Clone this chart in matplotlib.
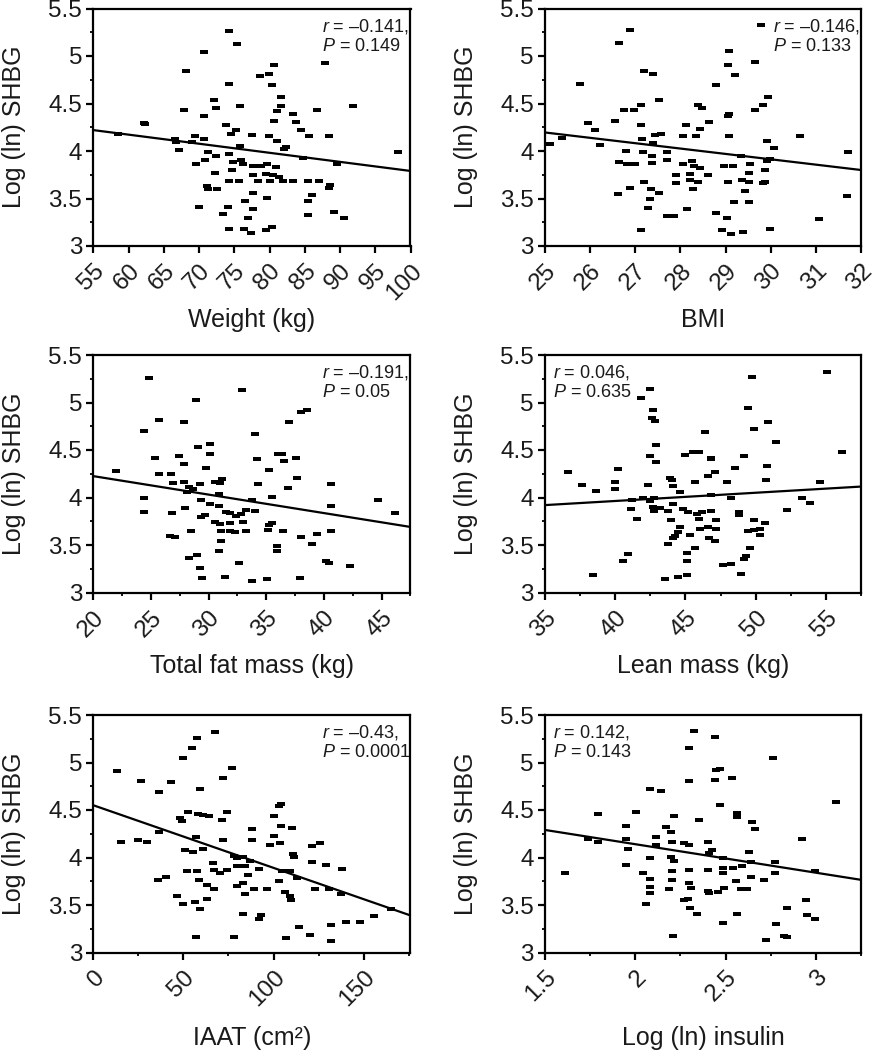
import numpy as np
import matplotlib
matplotlib.use("Agg")
import matplotlib.pyplot as plt
from matplotlib.ticker import MultipleLocator

plt.rcParams['font.family'] = ['Liberation Sans', 'DejaVu Sans']
plt.rcParams['mathtext.fontset'] = 'custom'
plt.rcParams['mathtext.rm'] = 'Liberation Sans'
plt.rcParams['mathtext.it'] = 'Liberation Sans:italic'

# ---- data ----
weight = [74.3, 75.4, 70.7, 68.2, 80.6, 79.9, 78.7, 74.2, 80.4, 87.9, 72.1, 72.4, 67.9, 75.8, 81.6,
          81.6, 81.1, 70.7, 80.6, 83.4, 83.8, 86.7, 91.9, 62.2, 62.4, 58.5, 73.8, 75.2, 74.5, 77.5,
          79.9, 81.0, 84.4, 85.6, 88.5, 66.6, 66.8, 67.2, 69.4, 70.7, 69.0, 75.8, 71.3, 72.4, 70.9,
          69.5, 74.3, 74.8, 76.0, 76.2, 77.6, 78.8, 79.7, 80.9, 74.7, 72.2, 77.7, 79.5, 80.5, 81.4,
          82.1, 82.4, 84.7, 89.6, 98.2, 74.2, 75.7, 78.3, 80.0, 81.9, 83.4, 85.4, 87.0, 88.6, 88.4,
          71.1, 71.3, 72.5, 77.6, 79.7, 86.0, 85.4, 76.5, 70.0, 74.1, 77.6, 73.4, 85.4, 89.2, 90.5,
          76.9, 74.3, 76.4, 77.4, 79.5, 80.3]
shbg_weight = [5.26, 5.13, 5.04, 4.84, 4.90, 4.81, 4.79, 4.71, 4.69, 4.93, 4.54, 4.45, 4.43, 4.47, 4.57,
               4.47, 4.42, 4.37, 4.32, 4.39, 4.31, 4.43, 4.47, 4.29, 4.28, 4.18, 4.27, 4.22, 4.18, 4.17,
               4.16, 4.11, 4.22, 4.16, 4.16, 4.13, 4.09, 4.01, 4.16, 4.13, 4.09, 4.05, 3.99, 3.95, 3.91,
               3.86, 3.97, 3.88, 3.91, 3.86, 3.84, 3.84, 3.86, 3.83, 3.80, 3.77, 3.75, 3.76, 3.75, 3.73,
               4.02, 4.04, 3.93, 3.86, 3.99, 3.68, 3.68, 3.68, 3.68, 3.68, 3.68, 3.68, 3.68, 3.64, 3.61,
               3.63, 3.60, 3.60, 3.56, 3.51, 3.54, 3.47, 3.47, 3.41, 3.41, 3.39, 3.34, 3.33, 3.36, 3.30,
               3.29, 3.18, 3.18, 3.14, 3.17, 3.20]

bmi = [29.78, 26.88, 26.64, 29.08, 29.05, 29.21, 29.66, 25.78, 27.19, 27.39, 28.79, 27.53, 26.74, 26.98,
       27.12, 28.40, 28.47, 29.93, 29.82, 29.66, 29.08, 29.05, 25.95, 26.11, 26.54, 27.12, 28.12, 28.64,
       28.43, 27.44, 27.58, 28.05, 28.35, 29.08, 27.14, 27.39, 26.22, 25.11, 25.37, 26.79, 27.16, 27.36,
       27.38, 27.70, 27.70, 26.65, 26.82, 26.99, 28.06, 28.25, 28.29, 28.43, 27.90, 27.90, 28.21, 28.21,
       28.40, 28.60, 28.27, 28.97, 29.17, 29.06, 29.34, 29.54, 29.51, 29.91, 29.99, 29.87, 29.36, 29.53,
       29.43, 29.82, 29.87, 29.92, 30.08, 30.65, 31.72, 31.68, 31.08, 27.19, 27.34, 27.33, 27.53, 26.62,
       26.88, 27.29, 27.70, 27.86, 28.14, 28.79, 29.03, 29.19, 29.51, 27.12, 28.91, 29.11, 29.39, 29.99]
shbg_bmi = [5.33, 5.27, 5.14, 5.05, 4.91, 4.80, 4.94, 4.71, 4.84, 4.81, 4.69, 4.54, 4.43, 4.43,
            4.48, 4.48, 4.45, 4.57, 4.48, 4.43, 4.39, 4.37, 4.30, 4.22, 4.32, 4.27, 4.27, 4.31,
            4.23, 4.17, 4.18, 4.16, 4.16, 4.16, 4.13, 4.08, 4.06, 4.07, 4.14, 4.00, 3.99, 3.95,
            3.87, 3.99, 3.91, 3.88, 3.86, 3.86, 3.86, 3.90, 3.84, 3.82, 3.75, 3.66, 3.76, 3.69,
            3.67, 3.75, 3.60, 3.84, 3.84, 3.67, 3.95, 3.86, 3.77, 3.89, 3.92, 3.80, 3.69, 3.67,
            3.58, 3.66, 3.67, 4.11, 4.03, 4.16, 3.99, 3.53, 3.28, 3.67, 3.60, 3.50, 3.56, 3.55,
            3.61, 3.40, 3.32, 3.32, 3.39, 3.35, 3.29, 3.46, 3.46, 3.17, 3.17, 3.13, 3.15, 3.18]

fat = [24.81, 32.87, 28.87, 25.70, 27.83, 24.41, 38.57, 38.00, 36.99, 34.02, 29.07, 30.13, 30.13, 25.36,
       27.43, 27.86, 29.79, 34.20, 35.98, 36.36, 36.56, 37.56, 35.20, 37.65, 21.96, 25.70, 26.71, 26.91,
       27.86, 28.29, 28.15, 28.64, 29.21, 30.51, 31.17, 31.00, 30.88, 34.28, 36.90, 40.62, 35.49, 33.76,
       40.59, 24.41, 24.41, 26.82, 27.98, 29.30, 30.08, 30.94, 29.36, 29.65, 31.52, 31.81, 32.38, 32.81,
       33.25, 34.02, 30.51, 31.00, 31.89, 32.96, 35.26, 35.49, 35.12, 28.49, 31.09, 31.81, 32.30, 33.25,
       36.41, 26.62, 27.05, 38.05, 39.41, 38.92, 40.64, 44.71, 46.14, 31.03, 30.88, 35.90, 35.90, 28.98,
       28.29, 29.21, 32.67, 40.16, 40.44, 42.26, 29.42, 31.43, 33.76, 35.06, 37.91]
shbg_fat = [5.26, 5.13, 5.03, 4.82, 4.79, 4.70, 4.92, 4.90, 4.80, 4.67, 4.53, 4.56, 4.46, 4.42,
            4.44, 4.35, 4.31, 4.40, 4.46, 4.46, 4.38, 4.42, 4.29, 4.21, 4.28, 4.25, 4.25, 4.15,
            4.16, 4.11, 4.06, 4.09, 4.14, 4.16, 4.19, 4.15, 4.04, 4.14, 4.10, 4.14, 4.01, 3.97,
            3.91, 3.99, 3.85, 3.84, 3.89, 3.97, 3.93, 3.91, 3.80, 3.82, 3.85, 3.84, 3.81, 3.83,
            3.87, 3.86, 3.74, 3.72, 3.73, 3.74, 3.71, 3.73, 3.66, 3.65, 3.65, 3.65, 3.64, 3.65,
            3.65, 3.60, 3.58, 3.58, 3.62, 3.51, 3.65, 3.97, 3.84, 3.54, 3.44, 3.49, 3.44, 3.39,
            3.36, 3.26, 3.31, 3.33, 3.31, 3.28, 3.15, 3.16, 3.12, 3.14, 3.15]

lean = [55.07, 49.75, 42.48, 41.82, 42.67, 42.60, 42.84, 49.42, 50.91, 49.89, 46.40, 42.91, 51.46, 42.48,
        42.91, 44.98, 45.57, 45.93, 46.83, 46.83, 49.20, 56.14, 48.54, 50.80, 36.62, 40.18, 46.59, 47.11,
        43.91, 44.03, 44.14, 44.62, 45.69, 47.99, 50.72, 54.60, 37.61, 38.63, 39.99, 39.99, 42.36, 46.83,
        48.23, 41.18, 41.96, 42.48, 42.77, 53.29, 53.88, 41.13, 42.67, 42.77, 43.19, 43.79, 44.10, 44.81,
        45.21, 45.81, 46.16, 46.83, 48.78, 48.78, 52.22, 41.53, 43.98, 45.93, 47.19, 49.89, 50.68, 46.05,
        46.59, 47.19, 44.62, 44.50, 44.26, 44.14, 45.33, 49.42, 49.85, 50.32, 50.32, 46.69, 47.11, 43.74,
        45.69, 40.94, 40.53, 45.10, 45.10, 49.61, 49.28, 49.18, 47.66, 48.23, 38.40, 48.94, 43.55, 44.50,
        45.10]
shbg_lean = [5.32, 5.27, 5.14, 5.05, 4.92, 4.84, 4.81, 4.94, 4.80, 4.72, 4.69, 4.55, 4.58, 4.44,
             4.37, 4.45, 4.48, 4.48, 4.42, 4.40, 4.44, 4.48, 4.31, 4.33, 4.27, 4.30, 4.23, 4.27,
             4.21, 4.18, 4.12, 4.06, 4.16, 4.16, 4.18, 4.16, 4.13, 4.07, 4.16, 4.09, 4.13, 4.03,
             4.00, 3.97, 3.99, 3.96, 4.00, 3.99, 3.94, 3.88, 3.90, 3.86, 3.89, 3.86, 3.93, 3.88,
             3.85, 3.83, 3.85, 3.86, 3.85, 3.82, 3.87, 3.77, 3.76, 3.77, 3.76, 3.76, 3.73, 3.67,
             3.69, 3.67, 3.69, 3.64, 3.60, 3.57, 3.61, 3.65, 3.66, 3.67, 3.61, 3.57, 3.54, 3.51,
             3.47, 3.41, 3.33, 3.42, 3.33, 3.47, 3.38, 3.35, 3.29, 3.30, 3.18, 3.19, 3.14, 3.16,
             3.18]

iaat = [67.6, 57.8, 55.0, 50.0, 13.0, 26.3, 43.1, 36.7, 59.3, 76.9, 71.9, 104.1, 103.3, 48.1, 49.1, 52.8,
        58.3, 60.7, 64.4, 74.1, 71.3, 100.4, 104.1, 110.2, 88.3, 36.7, 15.4, 24.6, 29.6, 57.0, 71.9, 88.3,
        100.0, 97.8, 103.7, 121.3, 125.6, 50.9, 55.2, 61.1, 78.1, 80.0, 83.3, 87.0, 121.3, 129.3, 138.0,
        110.6, 111.5, 66.3, 67.0, 70.4, 74.4, 79.6, 83.9, 51.9, 57.8, 91.7, 86.1, 104.6, 108.9, 103.3,
        113.0, 36.1, 40.4, 58.9, 63.0, 66.7, 79.6, 83.0, 84.3, 88.9, 96.3, 106.5, 108.9, 109.6, 123.1,
        130.6, 137.4, 46.3, 50.0, 56.5, 63.0, 59.3, 83.0, 93.0, 92.0, 165.2, 155.6, 147.8, 140.4, 131.9,
        113.9, 120.0, 57.0, 77.8, 107.0, 131.9]
shbg_iaat = [5.32, 5.26, 5.15, 5.05, 4.91, 4.81, 4.80, 4.69, 4.72, 4.94, 4.84, 4.56, 4.54, 4.42, 4.38, 4.48,
             4.46, 4.45, 4.44, 4.48, 4.39, 4.44, 4.33, 4.31, 4.30, 4.27, 4.16, 4.18, 4.16, 4.22, 4.18, 4.18,
             4.23, 4.13, 4.15, 4.12, 4.15, 4.08, 4.06, 4.09, 4.02, 4.00, 4.01, 3.96, 3.95, 3.92, 3.88,
             4.04, 4.01, 3.94, 3.87, 3.84, 3.87, 3.91, 3.91, 3.86, 3.86, 3.88, 3.82, 3.86, 3.86, 3.75,
             3.78, 3.76, 3.79, 3.76, 3.71, 3.67, 3.70, 3.73, 3.62, 3.67, 3.67, 3.64, 3.59, 3.55, 3.67,
             3.67, 3.62, 3.60, 3.51, 3.53, 3.56, 3.46, 3.41, 3.39, 3.35, 3.46, 3.38, 3.32, 3.32, 3.29,
             3.27, 3.18, 3.16, 3.16, 3.15, 3.12]

insulin = [2.327, 2.443, 2.300, 2.765, 2.300, 2.443, 2.447, 2.470, 2.535, 2.079, 2.143, 2.470, 3.114, 1.794,
           2.006, 2.213, 2.355, 2.566, 2.566, 1.947, 2.171, 2.199, 2.649, 2.662, 1.739, 1.794, 1.947, 1.960,
           2.116, 2.116, 2.204, 2.272, 2.300, 2.400, 2.425, 2.410, 2.921, 2.630, 1.610, 2.079, 2.199, 2.217,
           1.947, 2.483, 2.590, 2.640, 2.774, 2.774, 2.994, 2.204, 2.300, 2.400, 2.483, 2.483, 2.539, 2.042,
           2.083, 2.083, 2.083, 2.204, 2.186, 2.300, 2.309, 2.400, 2.410, 2.456, 2.493, 2.557, 2.585, 2.621,
           2.640, 2.713, 2.057, 2.272, 2.290, 2.303, 2.342, 2.566, 2.842, 2.947, 2.953, 2.994, 2.483, 2.778,
           2.208, 2.726, 2.824, 2.842]
shbg_insulin = [5.33, 5.27, 5.15, 5.05, 4.81, 4.82, 4.92, 4.93, 4.84, 4.72, 4.70, 4.55, 4.58, 4.46,
                4.48, 4.44, 4.40, 4.47, 4.43, 4.33, 4.32, 4.27, 4.37, 4.30, 4.19, 4.16, 4.19, 4.09,
                4.22, 4.13, 4.16, 4.15, 4.13, 4.16, 4.08, 4.05, 4.19, 4.06, 3.84, 3.99, 4.01, 3.96,
                3.92, 3.99, 3.91, 3.95, 3.95, 3.84, 3.86, 3.86, 3.87, 3.87, 3.89, 3.84, 3.89, 3.84,
                3.77, 3.69, 3.63, 3.76, 3.67, 3.73, 3.68, 3.65, 3.63, 3.64, 3.68, 3.75, 3.67, 3.67,
                3.80, 3.76, 3.51, 3.55, 3.56, 3.47, 3.41, 3.41, 3.47, 3.55, 3.39, 3.35, 3.31, 3.30,
                3.17, 3.13, 3.17, 3.16]

# fitted lines as drawn (value at left and right end of x range)
fit_lines = {
    'weight': ([55, 100], [4.22, 3.79]),
    'bmi': ([25, 32], [4.195, 3.80]),
    'fat': ([20, 47.5], [4.225, 3.69]),
    'lean': ([35, 57.5], [3.92, 4.115]),
    'iaat': ([0, 176], [4.55, 3.39]),
    'insulin': ([1.5, 3.25], [4.29, 3.765]),
}

stats = {
    'weight': ('\u20130.141', '0.149'),
    'bmi': ('\u20130.146', '0.133'),
    'fat': ('\u20130.191', '0.05'),
    'lean': ('0.046', '0.635'),
    'iaat': ('\u20130.43', '0.0001'),
    'insulin': ('0.142', '0.143'),
}

panels = [
    ('weight', weight, shbg_weight, 'Weight (kg)', (55, 100), 5, None, 'right'),
    ('bmi', bmi, shbg_bmi, 'BMI', (25, 32), 1, None, 'right'),
    ('fat', fat, shbg_fat, 'Total fat mass (kg)', (20, 47.5), 5, 2.5, 'right'),
    ('lean', lean, shbg_lean, 'Lean mass (kg)', (35, 57.5), 5, 2.5, 'left'),
    ('iaat', iaat, shbg_iaat, 'IAAT (cm\u00b2)', (0, 176), 50, 25, 'right'),
    ('insulin', insulin, shbg_insulin, 'Log (ln) insulin', (1.5, 3.25), 0.5, 0.25, 'left'),
]

W, H = 877, 1050
fig = plt.figure(figsize=(W / 100, H / 100), dpi=100)

col_left = [93.3, 545]
col_width = [317.2, 316]
row_top = [8.5, 355, 715]
row_h = 237.5
xlabel_y = [-0.31, -0.31, -0.36]

rect_marker = [(-1, -0.5), (1, -0.5), (1, 0.5), (-1, 0.5), (-1, -0.5)]
txt = '#1a1a1a'

for i, (key, xs, ys, xlabel, xlim, major, minor, stat_side) in enumerate(panels):
    r, c = divmod(i, 2)
    ax = fig.add_axes([col_left[c] / W, 1 - (row_top[r] + row_h) / H,
                       col_width[c] / W, row_h / H])
    ax.plot(xs, ys, linestyle='none', marker=rect_marker, markersize=5.4,
            color='black', markeredgewidth=0)
    lx, ly = fit_lines[key]
    ax.plot(lx, ly, color='black', lw=1.6)

    ax.set_xlim(*xlim)
    ax.set_ylim(3, 5.5)
    ax.xaxis.set_major_locator(MultipleLocator(major))
    if minor:
        ax.xaxis.set_minor_locator(MultipleLocator(minor))
    ax.yaxis.set_major_locator(MultipleLocator(0.5))
    ax.yaxis.set_minor_locator(MultipleLocator(0.25))
    ax.yaxis.set_major_formatter(plt.FuncFormatter(lambda v, p: ('%g' % v)))
    ax.xaxis.set_major_formatter(plt.FuncFormatter(lambda v, p: ('%g' % v)))

    for s in ax.spines.values():
        s.set_linewidth(1.6)
    ax.tick_params(which='major', direction='out', length=5, width=1.6,
                   labelsize=17.5, labelcolor=txt, pad=3)
    ax.tick_params(which='minor', direction='out', length=2.5, width=1.3)
    ax.tick_params(axis='x', which='major', pad=5)

    for lab in ax.get_xticklabels():
        lab.set_rotation(45)
        lab.set_ha('right')
        lab.set_va('top')
        lab.set_rotation_mode('anchor')

    ax.set_xlabel(xlabel, fontsize=18, color=txt, va='center')
    ax.xaxis.set_label_coords(0.5, xlabel_y[r])
    ax.set_ylabel('Log (ln) SHBG', fontsize=18, color=txt, va='center')
    ax.yaxis.set_label_coords(-0.25, 0.5)

    rv, pv = stats[key]
    tx = 0.72 if stat_side == 'right' else 0.025
    ax.text(tx, 0.965, '$r$ = %s,\n$P$ = %s' % (rv, pv), transform=ax.transAxes,
            ha='left', va='top', fontsize=13, color=txt, linespacing=1.15)

fig.savefig('out.png', dpi=100)
